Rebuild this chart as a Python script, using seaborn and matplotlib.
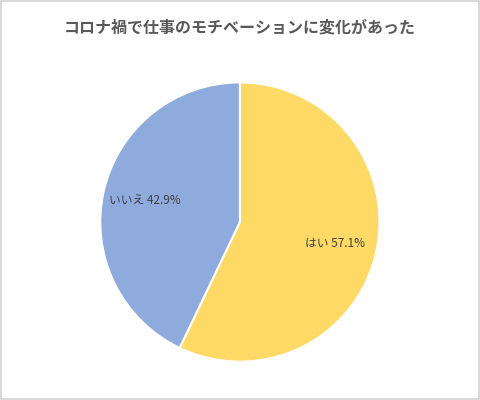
import matplotlib
matplotlib.use('Agg')
import matplotlib.pyplot as plt
import seaborn as sns

# データ
labels = ['はい', 'いいえ']
values = [57.1, 42.9]
colors = ['#FFD966', '#8FAADC']
title = 'コロナ禍で仕事のモチベーションに変化があった'

sns.set_theme(style='white')
plt.rcParams['font.family'] = ['Noto Sans CJK JP', 'DejaVu Sans']

fig = plt.figure(figsize=(4.8, 4.0), dpi=100)
fig.patch.set_edgecolor('#D9D9D9')
fig.patch.set_linewidth(1.5)

ax = fig.add_axes([0.206, 0.0925, 0.5875, 0.705])
texts = [f'{l} {v:.1f}%' for l, v in zip(labels, values)]
ax.pie(values, labels=texts, colors=colors, startangle=90, counterclock=False,
       labeldistance=0.7, wedgeprops=dict(edgecolor='white', linewidth=1.5),
       textprops=dict(fontsize=8.5, color='#404040', ha='center', va='center'))
ax.set_xlim(-1.01, 1.01)
ax.set_ylim(-1.01, 1.01)
ax.set_aspect('equal')

fig.text(0.5, 0.932, title, ha='center', va='center', fontsize=11.5,
         fontweight='bold', color='#595959')

fig.savefig('out.png', dpi=100, edgecolor=fig.get_edgecolor())
